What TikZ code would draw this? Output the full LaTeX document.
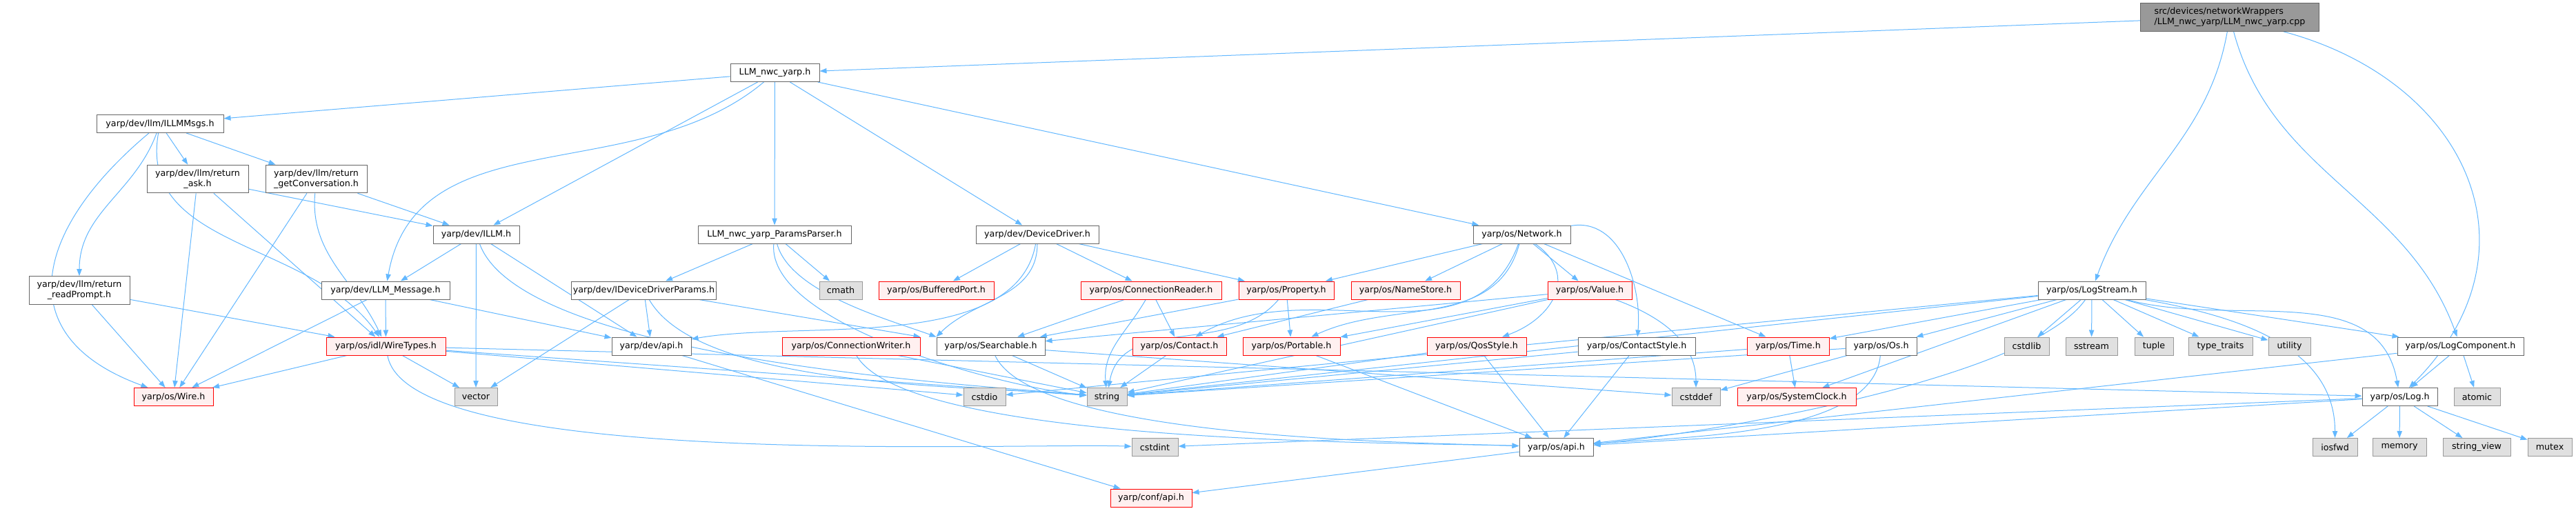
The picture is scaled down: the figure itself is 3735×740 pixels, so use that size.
\documentclass[tikz,border=0pt]{standalone}
\usepackage{fontspec}
\setmainfont{DejaVu Sans}
\usepackage{tikz}
\usetikzlibrary{arrows.meta,backgrounds}
\usepackage{xcolor}
\definecolor{EdgeBlue}{HTML}{63B8FF}
\definecolor{BoxGrey}{HTML}{666666}
\definecolor{SysGrey}{HTML}{999999}
\definecolor{SysFill}{HTML}{E0E0E0}
\definecolor{TruncRed}{HTML}{FF0000}
\definecolor{TruncFill}{HTML}{FFF0F0}

\begin{document}
\begin{tikzpicture}[
  x=0.75pt, y=0.75pt,
  every node/.style={font=\fontsize{9.5pt}{11.5pt}\selectfont},
  hdr/.style={draw=BoxGrey, fill=white, line width=0.75pt, align=center, inner xsep=2pt, inner ysep=1pt, minimum height=19.5pt},
  sys/.style={hdr, draw=SysGrey, fill=SysFill},
  trunc/.style={hdr, draw=TruncRed, fill=TruncFill},
  root/.style={hdr, draw=BoxGrey, fill=SysGrey, align=left},
  tall/.style={minimum height=30.5pt},
  bw/.style={minimum width=#1*0.75pt},
  dep/.style={-{Triangle[length=7.5pt,width=5.5pt]}, draw=EdgeBlue, line width=0.75pt}
]
\useasboundingbox (0,0) rectangle (3735,-740);

\node[root, tall, bw=259] (cpp) at (3233,-25) {src/devices/networkWrappers\\/LLM\_nwc\_yarp/LLM\_nwc\_yarp.cpp};
\node[hdr, bw=129] (nwc) at (1123.5,-105.5) {LLM\_nwc\_yarp.h};
\node[hdr, bw=184] (llmmsgs) at (232,-179.5) {yarp/dev/llm/ILLMMsgs.h};
\node[hdr, tall, bw=147] (retask) at (286.5,-259.5) {yarp/dev/llm/return\\\_ask.h};
\node[hdr, tall, bw=147] (retconv) at (458.5,-259.5) {yarp/dev/llm/return\\\_getConversation.h};
\node[hdr, bw=125] (illm) at (690.5,-340) {yarp/dev/ILLM.h};
\node[hdr, bw=222] (params) at (1123,-340) {LLM\_nwc\_yarp\_ParamsParser.h};
\node[hdr, bw=178] (devdriver) at (1504,-340) {yarp/dev/DeviceDriver.h};
\node[hdr, bw=141] (network) at (2206.5,-340) {yarp/os/Network.h};

\node[hdr, tall, bw=146] (retprompt) at (115,-421) {yarp/dev/llm/return\\\_readPrompt.h};
\node[hdr, bw=186] (llmmsg) at (559,-421) {yarp/dev/LLM\_Message.h};
\node[hdr, bw=209] (iddparams) at (933.5,-421) {yarp/dev/IDeviceDriverParams.h};
\node[sys, bw=62] (cmath) at (1219,-421) {cmath};
\node[trunc, bw=167] (bufport) at (1357.5,-421) {yarp/os/BufferedPort.h};
\node[trunc, bw=204] (connreader) at (1669,-421) {yarp/os/ConnectionReader.h};
\node[trunc, bw=138] (property) at (1865,-421) {yarp/os/Property.h};
\node[trunc, bw=158] (namestore) at (2038,-421) {yarp/os/NameStore.h};
\node[trunc, bw=122] (value) at (2305,-421) {yarp/os/Value.h};
\node[hdr, bw=156] (logstream) at (3033,-421) {yarp/os/LogStream.h};

\node[trunc, bw=173] (wiretypes) at (559.5,-502) {yarp/os/idl/WireTypes.h};
\node[hdr, bw=115] (devapi) at (944.5,-502) {yarp/dev/api.h};
\node[trunc, bw=200] (connwriter) at (1234,-502) {yarp/os/ConnectionWriter.h};
\node[hdr, bw=157] (searchable) at (1436.5,-502) {yarp/os/Searchable.h};
\node[trunc, bw=136] (contact) at (1710,-502) {yarp/os/Contact.h};
\node[trunc, bw=141] (portable) at (1872.5,-502) {yarp/os/Portable.h};
\node[trunc, bw=144] (qosstyle) at (2141,-502) {yarp/os/QosStyle.h};
\node[hdr, bw=170] (contactstyle) at (2373,-502) {yarp/os/ContactStyle.h};
\node[trunc, bw=119] (timeh) at (2592.5,-502) {yarp/os/Time.h};
\node[hdr, bw=103] (osh) at (2727.5,-502) {yarp/os/Os.h};
\node[sys, bw=65] (cstdlib) at (2938.5,-502) {cstdlib};
\node[sys, bw=75] (sstream) at (3032.5,-502) {sstream};
\node[sys, bw=56] (tuple) at (3123,-502) {tuple};
\node[sys, bw=93] (typetraits) at (3219.5,-502) {type\_traits};
\node[sys, bw=61] (utility) at (3319.5,-502) {utility};
\node[hdr, bw=183] (logcomp) at (3567.5,-502) {yarp/os/LogComponent.h};

\node[trunc, bw=115] (wire) at (251.5,-575.5) {yarp/os/Wire.h};
\node[sys, bw=62] (vector) at (690,-575.5) {vector};
\node[sys, bw=61] (cstdio) at (1427.5,-575.5) {cstdio};
\node[sys, bw=58] (string) at (1605,-575.5) {string};
\node[sys, bw=70] (cstddef) at (2459,-575.5) {cstddef};
\node[trunc, bw=172] (sysclock) at (2605,-575.5) {yarp/os/SystemClock.h};
\node[hdr, bw=109] (log) at (3479.5,-575.5) {yarp/os/Log.h};
\node[sys, bw=67] (atomic) at (3591.5,-575.5) {atomic};

\node[sys, bw=67] (cstdint) at (1674.5,-648.5) {cstdint};
\node[hdr, bw=107] (osapi) at (2256.5,-648.5) {yarp/os/api.h};
\node[sys, bw=65] (iosfwd) at (3385.5,-648.5) {iosfwd};
\node[sys, bw=78] (memory) at (3479,-648.5) {memory};
\node[sys, bw=98] (stringview) at (3591,-648.5) {string\_view};
\node[sys, bw=64] (mutex) at (3697,-648.5) {mutex};

\node[trunc, bw=118] (confapi) at (1669,-722) {yarp/conf/api.h};

\begin{scope}[on background layer]
\fill[white] (0,0) rectangle (3735,-740);
\draw[dep] (cpp) -- (nwc);
\draw[dep] (cpp) to[out=-100,in=70] (logstream);
\draw[dep] (cpp) to[out=-75,in=110] (logcomp);
\draw[dep] (cpp) to[out=-15,in=45,looseness=1.3] (log);

\draw[dep] (nwc) -- (llmmsgs);
\draw[dep] (nwc) to[out=-140,in=80] (llmmsg);
\draw[dep] (nwc) -- (illm);
\draw[dep] (nwc) -- (params);
\draw[dep] (nwc) -- (devdriver);
\draw[dep] (nwc) -- (network);

\draw[dep] (llmmsgs) -- (retask);
\draw[dep] (llmmsgs) -- (retconv);
\draw[dep] (llmmsgs) to[out=-140,in=160,looseness=1.5] (wire);
\draw[dep] (llmmsgs) to[out=-110,in=90] (retprompt);
\draw[dep] (llmmsgs) to[out=-100,in=125] (wiretypes);
\draw[dep] (retask) -- (illm);
\draw[dep] (retask) -- (wire);
\draw[dep] (retask) -- (wiretypes);
\draw[dep] (retconv) -- (illm);
\draw[dep] (retconv) -- (wire);
\draw[dep] (retconv) to[out=-95,in=115] (wiretypes);
\draw[dep] (retprompt) -- (wire);
\draw[dep] (retprompt) -- (wiretypes);

\draw[dep] (illm) -- (llmmsg);
\draw[dep] (illm) -- (vector);
\draw[dep] (illm) -- (devapi);
\draw[dep] (illm) to[out=-70,in=175,looseness=0.5] (string);
\draw[dep] (llmmsg) -- (wiretypes);
\draw[dep] (llmmsg) -- (wire);
\draw[dep] (llmmsg) -- (devapi);

\draw[dep] (params) -- (iddparams);
\draw[dep] (params) -- (cmath);
\draw[dep] (params) to[out=-95,in=175,looseness=0.6] (string);
\draw[dep] (params) to[out=-75,in=160,looseness=0.7] (searchable.north west);
\draw[dep] (iddparams) -- (vector);
\draw[dep] (iddparams) -- (devapi);
\draw[dep] (iddparams) to[out=-60,in=175,looseness=0.6] (string);
\draw[dep] (iddparams) -- (connwriter.north east);

\draw[dep] (devdriver) -- (bufport);
\draw[dep] (devdriver) to[out=-100,in=10,looseness=0.8] (devapi);
\draw[dep] (devdriver) to[out=-90,in=45] (searchable.north west);
\draw[dep] (devdriver) -- (connreader);
\draw[dep] (devdriver) -- (property);

\draw[dep] (network) -- (property);
\draw[dep] (network) -- (namestore);
\draw[dep] (network) -- (value);
\draw[dep] (network) to[out=-110,in=30] (contact);
\draw[dep] (network) to[out=-105,in=25] (portable);
\draw[dep] (network) to[out=-35,in=20,looseness=1.4] (qosstyle);
\draw[dep] (network) to[out=10,in=85] (contactstyle);
\draw[dep] (network) -- (timeh);

\draw[dep] (value) -- (searchable);
\draw[dep] (value) -- (portable);
\draw[dep] (value) -- (string);
\draw[dep] (value) to[out=-20,in=90] (cstddef);
\draw[dep] (property) -- (searchable);
\draw[dep] (property) -- (portable);
\draw[dep] (property) to[out=-130,in=80] (string);
\draw[dep] (namestore) -- (contact);
\draw[dep] (connreader) -- (searchable);
\draw[dep] (connreader) to[out=-120,in=95] (string);
\draw[dep] (connreader) -- (contact);
\draw[dep] (contact) -- (string);
\draw[dep] (portable) -- (osapi);
\draw[dep] (searchable) -- (string);
\draw[dep] (searchable) to[out=-65,in=178,looseness=0.45] (osapi);
\draw[dep] (searchable) -- (cstddef);
\draw[dep] (connwriter) -- (string);
\draw[dep] (connwriter) to[out=-60,in=178,looseness=0.4] (osapi);

\draw[dep] (wiretypes) -- (wire);
\draw[dep] (wiretypes) -- (vector);
\draw[dep] (wiretypes) to[out=-80,in=178,looseness=0.4] (cstdint);
\draw[dep] (wiretypes) -- (string);
\draw[dep] (wiretypes) -- (cstdio);
\draw[dep] (wiretypes) -- (log);
\draw[dep] (devapi) -- (confapi);
\draw[dep] (osapi) -- (confapi);

\draw[dep] (qosstyle) -- (osapi);
\draw[dep] (qosstyle) -- (string);
\draw[dep] (contactstyle) -- (osapi);
\draw[dep] (contactstyle) -- (string);
\draw[dep] (timeh) -- (sysclock);
\draw[dep] (timeh) -- (string);
\draw[dep] (osh) -- (cstddef);
\draw[dep] (osh) to[out=-95,in=5,looseness=0.7] (osapi);
\draw[dep] (osh) -- (string);

\draw[dep] (logstream) -- (timeh);
\draw[dep] (logstream) -- (osh);
\draw[dep] (logstream) -- (sysclock);
\draw[dep] (logstream) to[out=-125,in=5,looseness=0.5] (osapi);
\draw[dep] (logstream) -- (cstdlib);
\draw[dep] (logstream) -- (sstream);
\draw[dep] (logstream) -- (tuple);
\draw[dep] (logstream) -- (typetraits);
\draw[dep] (logstream) -- (utility);
\draw[dep] (logstream) -- (logcomp);
\draw[dep] (logstream) to[out=-15,in=100] (log);
\draw[dep] (logstream) to[out=-10,in=90] (iosfwd);
\draw[dep] (logstream) -- (string);
\draw[dep] (logstream) -- (cstdio);

\draw[dep] (logcomp) -- (log);
\draw[dep] (logcomp) -- (atomic);
\draw[dep] (logcomp) -- (osapi);
\draw[dep] (log) -- (iosfwd);
\draw[dep] (log) -- (memory);
\draw[dep] (log) -- (stringview);
\draw[dep] (log) -- (mutex);
\draw[dep] (log) -- (osapi);
\draw[dep] (log) -- (cstdint);
\end{scope}
\end{tikzpicture}
\end{document}
